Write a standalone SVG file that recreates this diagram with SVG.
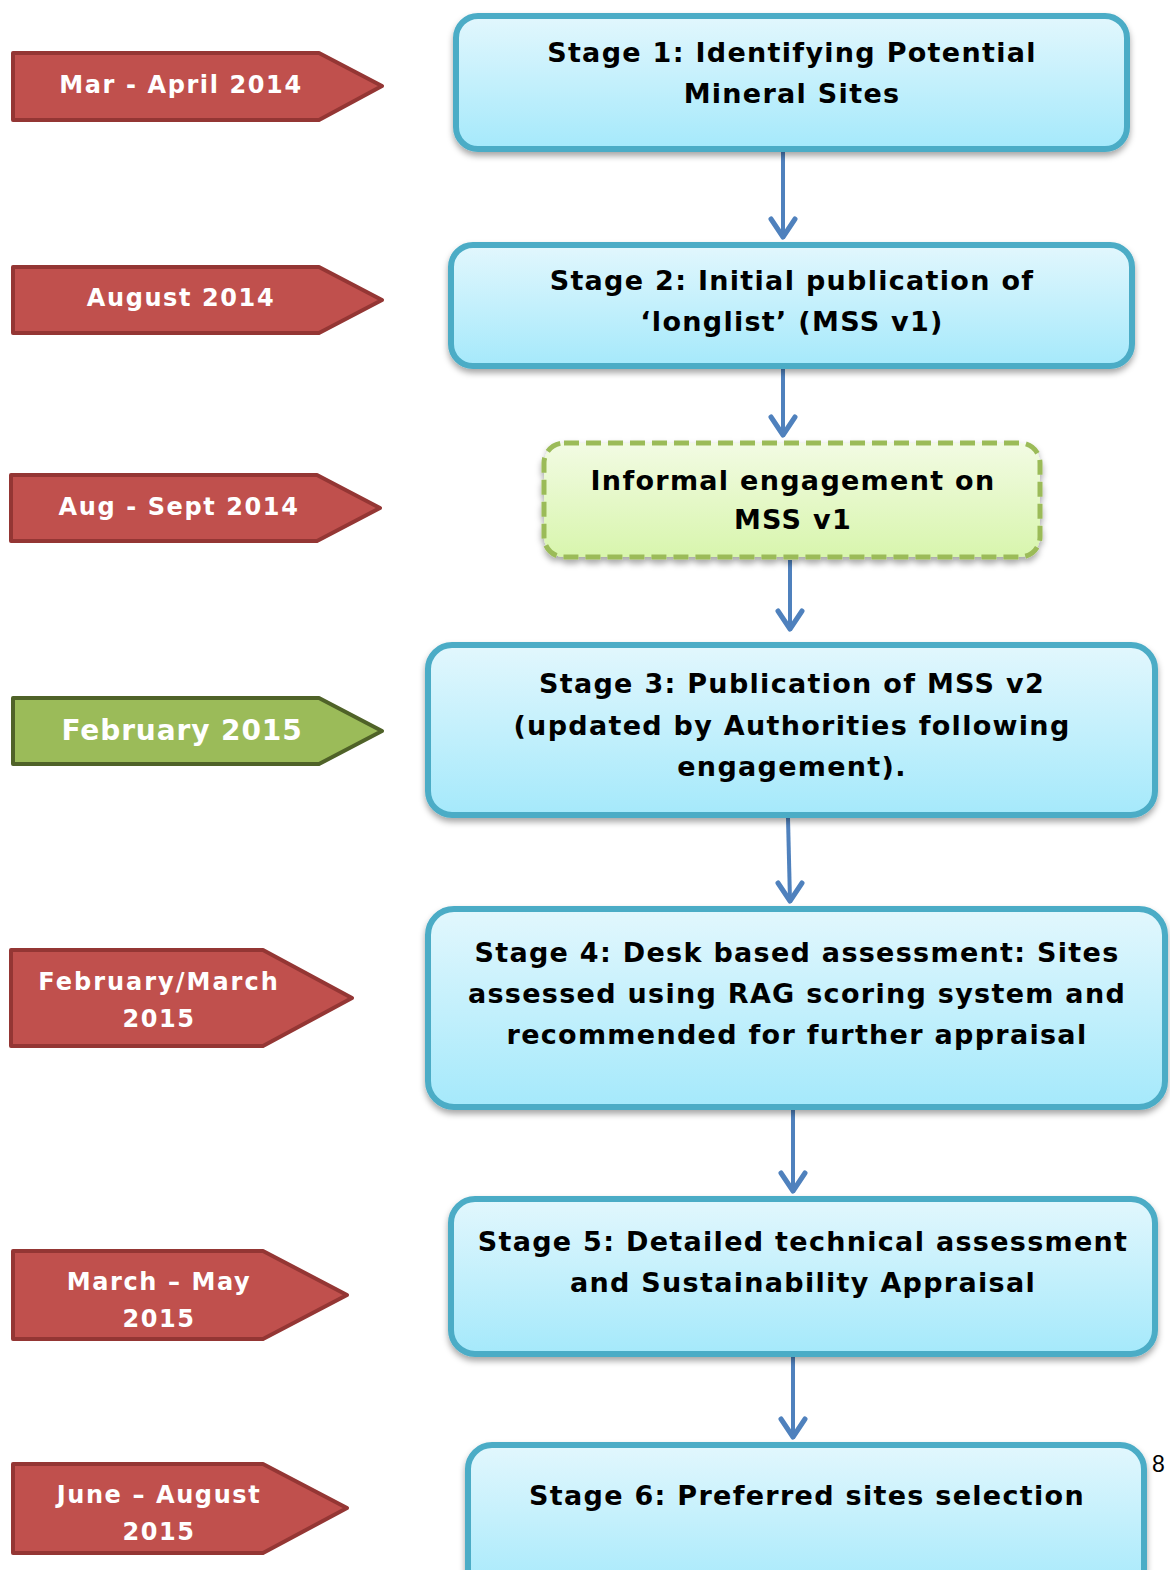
<svg xmlns="http://www.w3.org/2000/svg" width="1170" height="1570" viewBox="0 0 1170 1570">
<defs>
<linearGradient id="gBlue" x1="0" y1="0" x2="0" y2="1"><stop offset="0" stop-color="#e2f7fd"/><stop offset="1" stop-color="#a5e9fb"/></linearGradient>
<linearGradient id="gGreen" x1="0" y1="0" x2="0" y2="1"><stop offset="0" stop-color="#f2fbe3"/><stop offset="1" stop-color="#d8f5ad"/></linearGradient>
<filter id="sh" x="-5%" y="-10%" width="110%" height="125%"><feDropShadow dx="0" dy="4" stdDeviation="3" flood-color="#000" flood-opacity="0.35"/></filter>
</defs>
<style>
.box{fill:url(#gBlue);stroke:#4bacc6;stroke-width:6;filter:url(#sh)}
.gbox{fill:url(#gGreen);stroke:#9bbb59;stroke-width:5;stroke-dasharray:15 7;filter:url(#sh)}
.bt{font-family:"DejaVu Sans",Verdana,sans-serif;font-weight:bold;font-size:27px;letter-spacing:1.3px;fill:#000;text-anchor:middle}
.red{fill:#c0504d;stroke:#943634;stroke-width:4;stroke-linejoin:round}
.grn{fill:#9bbb59;stroke:#4f6228;stroke-width:4;stroke-linejoin:round}
.lt{font-family:"DejaVu Sans",Verdana,sans-serif;font-weight:bold;font-size:24px;letter-spacing:1.6px;fill:#fff;text-anchor:middle}
.cn{stroke:#4f81bd;stroke-width:4;fill:none}
.hd{stroke:#4f81bd;stroke-width:5;fill:none;stroke-linecap:round;stroke-linejoin:round}
</style>
<g id="connectors">
<line class="cn" x1="783" y1="152" x2="783" y2="237"/><polyline class="hd" points="771,219 783,237 795,219"/>
<line class="cn" x1="783" y1="369" x2="783" y2="435"/><polyline class="hd" points="771,417 783,435 795,417"/>
<line class="cn" x1="790" y1="560" x2="790" y2="629"/><polyline class="hd" points="778,611 790,629 802,611"/>
<line class="cn" x1="788" y1="818" x2="790" y2="901"/><polyline class="hd" points="778,883 790,901 802,883"/>
<line class="cn" x1="793" y1="1110" x2="793" y2="1191"/><polyline class="hd" points="781,1173 793,1191 805,1173"/>
<line class="cn" x1="793" y1="1357" x2="793" y2="1437"/><polyline class="hd" points="781,1419 793,1437 805,1419"/>
</g>
<g id="stage1"><rect class="box" x="456" y="16" width="671" height="133" rx="22"/>
<text class="bt" x="792" y="62">Stage 1: Identifying Potential</text><text class="bt" x="792" y="103">Mineral Sites</text></g>
<g id="stage2"><rect class="box" x="451" y="245" width="681" height="121" rx="22"/>
<text class="bt" x="792" y="290">Stage 2: Initial publication of</text><text class="bt" x="792" y="331">‘longlist’ (MSS v1)</text></g>
<g id="informal"><rect class="gbox" x="544" y="443" width="496" height="114" rx="20"/>
<text class="bt" x="793" y="490">Informal engagement on</text><text class="bt" x="793" y="529">MSS v1</text></g>
<g id="stage3"><rect class="box" x="428" y="645" width="727" height="170" rx="24"/>
<text class="bt" x="792" y="693">Stage 3: Publication of MSS v2</text><text class="bt" x="792" y="735">(updated by Authorities following</text><text class="bt" x="792" y="776">engagement).</text></g>
<g id="stage4"><rect class="box" x="428" y="909" width="737" height="198" rx="26"/>
<text class="bt" x="797" y="962">Stage 4: Desk based assessment: Sites</text><text class="bt" x="797" y="1003">assessed using RAG scoring system and</text><text class="bt" x="797" y="1044">recommended for further appraisal</text></g>
<g id="stage5"><rect class="box" x="451" y="1199" width="704" height="155" rx="24"/>
<text class="bt" x="803" y="1251">Stage 5: Detailed technical assessment</text><text class="bt" x="803" y="1292">and Sustainability Appraisal</text></g>
<g id="stage6"><rect class="box" x="468" y="1445" width="676" height="150" rx="24"/>
<text class="bt" x="807" y="1505">Stage 6: Preferred sites selection</text></g>
<g id="date1"><polygon class="red" points="13,53 319,53 382,86 319,120 13,120"/><text class="lt" x="181" y="93">Mar - April 2014</text></g>
<g id="date2"><polygon class="red" points="13,267 319,267 382,300 319,333 13,333"/><text class="lt" x="181" y="306">August 2014</text></g>
<g id="date3"><polygon class="red" points="11,475 317,475 380,508 317,541 11,541"/><text class="lt" x="179" y="515">Aug - Sept 2014</text></g>
<g id="date4"><polygon class="grn" points="13,698 319,698 382,731 319,764 13,764"/><text class="lt" x="182" y="740" style="font-size:28px;letter-spacing:0.9px">February 2015</text></g>
<g id="date5"><polygon class="red" points="11,950 263,950 352,998 263,1046 11,1046"/><text class="lt" x="159" y="990" style="letter-spacing:2px">February/March</text><text class="lt" x="159" y="1027">2015</text></g>
<g id="date6"><polygon class="red" points="13,1251 263,1251 347,1295 263,1339 13,1339"/><text class="lt" x="159" y="1290">March – May</text><text class="lt" x="159" y="1327">2015</text></g>
<g id="date7"><polygon class="red" points="13,1464 263,1464 347,1508 263,1553 13,1553"/><text class="lt" x="159" y="1503">June – August</text><text class="lt" x="159" y="1540">2015</text></g>
<text x="1152" y="1472" style="font-family:'Liberation Sans',Arial,sans-serif;font-size:23px;fill:#000">8</text>
</svg>
